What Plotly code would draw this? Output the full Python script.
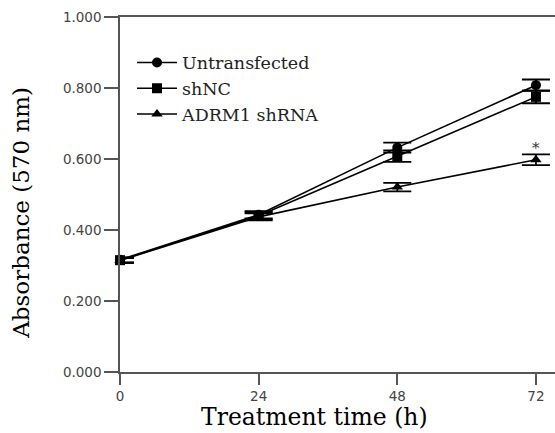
import plotly.graph_objects as go

time_h = [0, 24, 48, 72]
untransfected = [0.316, 0.443, 0.632, 0.808]
untransfected_err = [0.007, 0.010, 0.014, 0.016]
shnc = [0.315, 0.440, 0.608, 0.775]
shnc_err = [0.007, 0.010, 0.016, 0.018]
adrm1 = [0.314, 0.437, 0.521, 0.598]
adrm1_err = [0.007, 0.010, 0.012, 0.015]

series = [
    ("Untransfected", untransfected, untransfected_err, "circle"),
    ("shNC", shnc, shnc_err, "square"),
    ("ADRM1 shRNA", adrm1, adrm1_err, "triangle-up"),
]

fig = go.Figure()
for name, vals, errs, sym in series:
    fig.add_trace(go.Scatter(
        x=time_h, y=vals, name=name, mode="lines+markers",
        line=dict(color="black", width=1.6),
        marker=dict(symbol=sym, size=10, color="black"),
        error_y=dict(type="data", array=errs, visible=True, color="black",
                     thickness=1.8, width=14),
        cliponaxis=False,
    ))

fig.add_annotation(x=72, y=0.598 + 0.015, text="*", showarrow=False,
                   yanchor="bottom", yshift=-5,
                   font=dict(family="DejaVu Serif", size=15, color="#333"))

fig.add_annotation(x=0.448, y=-0.172, xref="paper", yref="paper",
                   text="Treatment time (h)", showarrow=False,
                   xanchor="center", yanchor="bottom",
                   font=dict(family="DejaVu Serif", size=23.5, color="black"))
fig.add_annotation(x=-0.228, y=0.448, xref="paper", yref="paper",
                   text="Absorbance (570 nm)", showarrow=False, textangle=-90,
                   xanchor="center", yanchor="middle",
                   font=dict(family="DejaVu Serif", size=23, color="black"))

fig.update_layout(
    width=555, height=433,
    margin=dict(l=120, r=0, t=17, b=61),
    paper_bgcolor="white", plot_bgcolor="white",
    showlegend=True,
    legend=dict(x=0.0276, y=0.922, xanchor="left", yanchor="top",
                bgcolor="rgba(0,0,0,0)", borderwidth=0,
                font=dict(family="DejaVu Serif", size=17.5, color="#222"),
                tracegroupgap=0, itemwidth=40),
    xaxis=dict(range=[0, 75.3], tickvals=[0, 24, 48, 72],
               ticktext=["0", "24", "48", "72"],
               showline=True, linecolor="#555", linewidth=1.5, mirror=True,
               ticks="outside", ticklen=11, tickwidth=1.5, tickcolor="#555",
               showgrid=False, zeroline=False,
               tickfont=dict(family="DejaVu Sans", size=13.5, color="#444")),
    yaxis=dict(range=[0, 1], tickvals=[0, 0.2, 0.4, 0.6, 0.8, 1.0],
               ticktext=["0.000", "0.200", "0.400", "0.600", "0.800", "1.000"],
               showline=True, linecolor="#555", linewidth=1.5,
               ticks="outside", ticklen=14, tickwidth=1.5, tickcolor="#555",
               showgrid=False, zeroline=False,
               tickfont=dict(family="DejaVu Sans", size=13.5, color="#444")),
)

fig.write_html("out.html", config={"displayModeBar": False},
               post_script="document.body.style.margin='0';document.body.style.overflow='hidden';")
